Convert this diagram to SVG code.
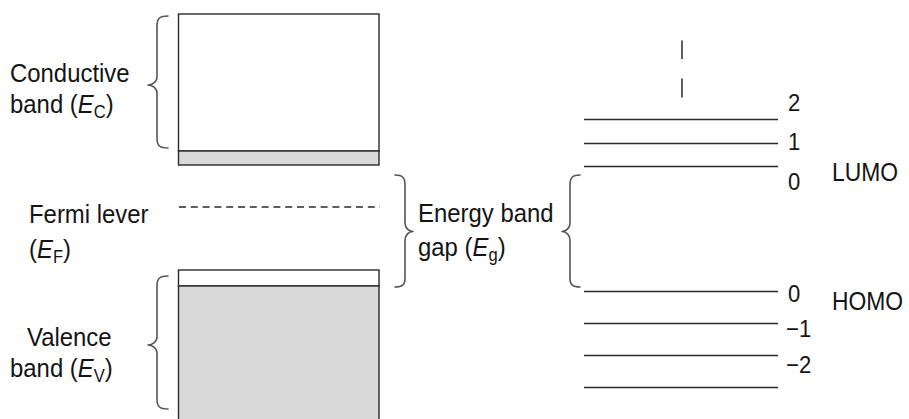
<svg xmlns="http://www.w3.org/2000/svg" width="909" height="419" viewBox="0 0 909 419">
  <style>
    text { font-family: "Liberation Sans", Arial, sans-serif; font-size: 26px; fill: #141414; }
    .num { font-size: 24px; }
    .it { font-style: italic; }
    .sub { font-size: 18px; }
    .box { fill: #ffffff; stroke: #2a2a2a; stroke-width: 1.4; }
    .filled { fill: #d9d9d9; stroke: #2a2a2a; stroke-width: 1.4; }
    .brace { fill: none; stroke: #555555; stroke-width: 1.6; stroke-linecap: round; stroke-linejoin: round; }
    .level { stroke: #2a2a2a; stroke-width: 1.5; }
    .dash { stroke: #2a2a2a; stroke-width: 1.4; stroke-dasharray: 7 4.8; }
  </style>

  <rect width="909" height="419" fill="#ffffff"/>

  <!-- conduction band block -->
  <g id="conduction-band">
    <rect class="box" x="178.5" y="14" width="200.5" height="137"/>
    <rect class="filled" x="178.5" y="151" width="200.5" height="14"/>
  </g>

  <!-- valence band block (runs past the lower edge) -->
  <g id="valence-band">
    <rect class="box" x="178.5" y="270" width="200.5" height="16"/>
    <rect class="filled" x="178.5" y="286" width="200.5" height="140"/>
  </g>

  <!-- Fermi level -->
  <g id="fermi-level">
    <line class="dash" x1="179" y1="207" x2="380" y2="207"/>
  </g>

  <!-- molecular orbital levels -->
  <g id="orbital-levels">
    <line class="level" x1="584" y1="119.5" x2="778" y2="119.5"/>
    <line class="level" x1="584" y1="143.5" x2="778" y2="143.5"/>
    <line class="level" x1="584" y1="166.5" x2="778" y2="166.5"/>
    <line class="level" x1="584" y1="291.5" x2="778" y2="291.5"/>
    <line class="level" x1="584" y1="323.5" x2="778" y2="323.5"/>
    <line class="level" x1="584" y1="355.5" x2="778" y2="355.5"/>
    <line class="level" x1="584" y1="387.5" x2="778" y2="387.5"/>
    <line class="level" x1="682" y1="40.5" x2="682" y2="59"/>
    <line class="level" x1="682" y1="78.5" x2="682" y2="97.5"/>
  </g>

  <!-- braces -->
  <g id="braces">
    <!-- conduction band brace -->
    <path class="brace" d="M168 16 C160 16 157 18 157 26 L157 77 C157 82 152 85 148 85 C152 85 157 88 157 93 L157 138 C157 146 160 148 168 148"/>
    <!-- valence band brace -->
    <path class="brace" d="M168 276 C160 276 157 278 157 286 L157 337 C157 342 152 345 148 345 C152 345 157 348 157 353 L157 399 C157 407 160 409 168 409"/>
    <!-- band gap brace, left -->
    <path class="brace" d="M395 175 C402 175 405 177 405 185 L405 223 C405 228 409 231.5 413 231.5 C409 231.5 405 235 405 240 L405 278 C405 285 402 287 395 287"/>
    <!-- band gap brace, right -->
    <path class="brace" d="M580 175 C573 175 570 177 570 185 L570 223 C570 228 566 231.5 562 231.5 C566 231.5 570 235 570 240 L570 278 C570 285 573 287 580 287"/>
  </g>

  <!-- labels: slightly narrowed glyphs -->
  <g id="label-conductive">
    <text transform="translate(10 82) scale(0.92 1)">Conductive</text>
    <text transform="translate(10 113) scale(0.92 1)">band (<tspan class="it">E</tspan><tspan class="sub" dy="5">C</tspan><tspan dy="-5">)</tspan></text>
  </g>
  <g id="label-fermi">
    <text transform="translate(29 223) scale(0.92 1)">Fermi lever</text>
    <text transform="translate(29 258) scale(0.92 1)">(<tspan class="it">E</tspan><tspan class="sub" dy="5">F</tspan><tspan dy="-5">)</tspan></text>
  </g>
  <g id="label-valence">
    <text transform="translate(27 346) scale(0.92 1)">Valence</text>
    <text transform="translate(10 377) scale(0.92 1)">band (<tspan class="it">E</tspan><tspan class="sub" dy="5">V</tspan><tspan dy="-5">)</tspan></text>
  </g>
  <g id="label-gap">
    <text transform="translate(418 222) scale(0.92 1)">Energy band</text>
    <text transform="translate(418 256) scale(0.92 1)">gap (<tspan class="it">E</tspan><tspan class="sub" dy="5">g</tspan><tspan dy="-5">)</tspan></text>
  </g>
  <g id="label-levels">
    <text class="num" transform="translate(788 111) scale(0.92 1)">2</text>
    <text class="num" transform="translate(788 150) scale(0.92 1)">1</text>
    <text class="num" transform="translate(788 190) scale(0.92 1)">0</text>
    <text transform="translate(832 181) scale(0.88 1)">LUMO</text>
    <text class="num" transform="translate(788 302) scale(0.92 1)">0</text>
    <text transform="translate(832 310) scale(0.88 1)">HOMO</text>
    <text class="num" transform="translate(786 337) scale(0.92 1)">−1</text>
    <text class="num" transform="translate(786 373) scale(0.92 1)">−2</text>
  </g>
</svg>
